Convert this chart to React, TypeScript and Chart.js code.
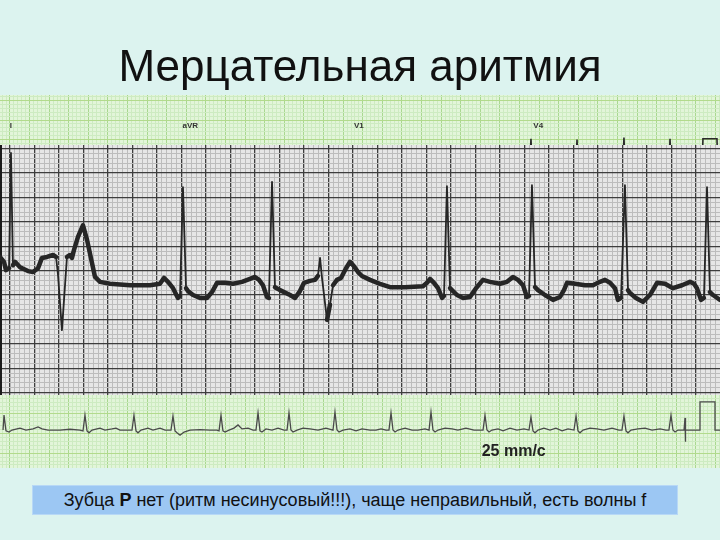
import React, { useEffect, useRef } from 'react';
import { Chart, registerables } from 'chart.js';

Chart.register(...registerables);

const TITLE = 'Мерцательная аритмия';
const CAPTION_START = 'Зубца ';
const CAPTION_BOLD = 'P';
const CAPTION_END = ' нет (ритм несинусовый!!!), чаще неправильный, есть волны f';
const SPEED_LABEL = '25 mm/c';
const SPEED_AT = [5.14, -0.47];

const leadNames = ['I', 'aVR', 'V1', 'V4'];
const leadTimes = [0.01, 1.84, 3.56, 5.39];
const leadLevel = 7.85;

// Upper (grey) rhythm strip: time in s, amplitude in mV
const upperTime = [
  -0.082, -0.049, -0.033, -0.008, 0.008, 0.024, 0.041, 0.082, 0.147, 0.188,
  0.229, 0.261, 0.302, 0.351, 0.376, 0.392, 0.424, 0.441, 0.465, 0.49,
  0.506, 0.522, 0.555, 0.596, 0.629, 0.669, 0.694, 0.735, 0.816, 0.98,
  1.143, 1.224, 1.257, 1.29, 1.331, 1.371, 1.388, 1.412, 1.437, 1.453,
  1.494, 1.551, 1.608, 1.649, 1.69, 1.755, 1.82, 1.894, 1.959, 2.0,
  2.033, 2.065, 2.098, 2.114, 2.139, 2.163, 2.204, 2.286, 2.327, 2.367,
  2.4, 2.449, 2.49, 2.514, 2.531, 2.547, 2.588, 2.612, 2.637, 2.669,
  2.702, 2.743, 2.776, 2.808, 2.841, 2.873, 2.939, 3.02, 3.102, 3.224,
  3.371, 3.404, 3.429, 3.461, 3.494, 3.527, 3.543, 3.567, 3.592, 3.608,
  3.649, 3.698, 3.755, 3.804, 3.861, 3.918, 4.0, 4.057, 4.106, 4.147,
  4.188, 4.22, 4.237, 4.261, 4.286, 4.31, 4.367, 4.433, 4.49, 4.522,
  4.547, 4.612, 4.694, 4.759, 4.816, 4.857, 4.898, 4.939, 4.963, 4.988,
  5.02, 5.045, 5.061, 5.11, 5.167, 5.224, 5.282, 5.347, 5.412, 5.486,
  5.551, 5.584, 5.608, 5.641, 5.665, 5.69, 5.714, 5.739, 5.796,
];
const upperMv = [
  0.78, 0.68, 0.51, 0.55, 2.91, 0.61, 0.68, 0.57, 0.49, 0.47,
  0.55, 0.76, 0.78, 0.82, 0.78, 0.41, -0.72, -0.1, 0.78, 0.82,
  0.76, 0.92, 1.19, 1.43, 1.13, 0.66, 0.37, 0.27, 0.23, 0.2,
  0.2, 0.23, 0.35, 0.27, 0.14, -0.06, -0.02, 2.21, 0.14, 0.08,
  0.0, -0.06, -0.06, 0.06, 0.25, 0.25, 0.23, 0.27, 0.33, 0.37,
  0.31, 0.2, -0.04, -0.06, 2.32, 0.16, 0.1, 0.0, -0.06, 0.08,
  0.25, 0.29, 0.31, 0.39, 0.76, 0.35, -0.51, -0.2, 0.2, 0.31,
  0.35, 0.55, 0.68, 0.59, 0.47, 0.39, 0.31, 0.23, 0.16, 0.16,
  0.18, 0.25, 0.33, 0.25, 0.14, -0.06, -0.02, 2.23, 0.14, 0.1,
  0.0, -0.06, -0.04, 0.14, 0.31, 0.27, 0.23, 0.27, 0.37, 0.31,
  0.2, -0.04, -0.02, 2.25, 0.16, 0.1, 0.0, -0.1, -0.04, 0.1,
  0.25, 0.23, 0.2, 0.2, 0.27, 0.31, 0.25, 0.14, -0.1, -0.06,
  2.25, 0.1, 0.04, -0.06, -0.14, 0.0, 0.25, 0.23, 0.14, 0.2,
  0.27, 0.23, 0.14, -0.1, -0.06, 2.21, 0.06, 0.0, -0.1,
];

// Lower (green) strip: time in s, amplitude in mV
const lowerTime = [
  -0.071, -0.061, -0.041, -0.01, 0.02, 0.102, 0.163, 0.235, 0.286, 0.327,
  0.388, 0.51, 0.612, 0.714, 0.745, 0.765, 0.786, 0.806, 0.837, 0.918,
  0.969, 1.041, 1.082, 1.122, 1.204, 1.245, 1.265, 1.286, 1.306, 1.337,
  1.408, 1.459, 1.531, 1.582, 1.643, 1.663, 1.684, 1.704, 1.735, 1.776,
  1.837, 1.939, 2.041, 2.112, 2.133, 2.153, 2.173, 2.194, 2.235, 2.286,
  2.327, 2.367, 2.429, 2.48, 2.51, 2.531, 2.551, 2.571, 2.612, 2.673,
  2.735, 2.796, 2.827, 2.847, 2.867, 2.888, 2.929, 2.99, 3.061, 3.143,
  3.224, 3.296, 3.316, 3.337, 3.357, 3.398, 3.469, 3.531, 3.592, 3.673,
  3.735, 3.786, 3.837, 3.867, 3.888, 3.908, 3.929, 3.959, 4.031, 4.102,
  4.163, 4.235, 4.276, 4.296, 4.316, 4.337, 4.367, 4.439, 4.51, 4.571,
  4.653, 4.735, 4.796, 4.827, 4.847, 4.867, 4.888, 4.918, 4.98, 5.031,
  5.102, 5.173, 5.245, 5.296, 5.316, 5.337, 5.357, 5.388, 5.449, 5.51,
  5.571, 5.633, 5.694, 5.755, 5.776, 5.796, 5.816, 5.847, 5.918, 5.99,
  6.061, 6.143, 6.214, 6.245, 6.265, 6.286, 6.306, 6.337, 6.408, 6.48,
  6.551, 6.633, 6.694, 6.724, 6.745, 6.765, 6.786, 6.816, 6.878, 6.888,
  6.888, 6.898, 7.041, 7.041, 7.194, 7.194, 7.245,
];
const lowerMv = [
  0.09, 0.47, 0.07, 0.04, 0.09, 0.14, 0.09, 0.12, 0.17, 0.12,
  0.09, 0.09, 0.11, 0.09, 0.07, 0.47, 0.07, 0.02, 0.09, 0.14,
  0.09, 0.12, 0.14, 0.09, 0.09, 0.09, 0.47, 0.07, 0.02, 0.09,
  0.14, 0.09, 0.14, 0.09, 0.09, 0.45, 0.07, 0.02, -0.04, 0.04,
  0.09, 0.1, 0.09, 0.09, 0.07, 0.47, 0.07, 0.04, 0.09, 0.14,
  0.22, 0.12, 0.14, 0.09, 0.09, 0.53, 0.07, 0.04, 0.12, 0.09,
  0.14, 0.09, 0.09, 0.53, 0.09, 0.04, 0.09, 0.14, 0.12, 0.09,
  0.14, 0.09, 0.55, 0.09, 0.04, 0.09, 0.12, 0.07, 0.12, 0.09,
  0.09, 0.12, 0.09, 0.09, 0.53, 0.09, 0.04, 0.09, 0.14, 0.09,
  0.09, 0.12, 0.09, 0.55, 0.09, 0.04, 0.09, 0.14, 0.12, 0.09,
  0.14, 0.09, 0.09, 0.09, 0.47, 0.09, 0.04, 0.09, 0.12, 0.07,
  0.14, 0.09, 0.12, 0.09, 0.42, 0.07, 0.02, 0.09, 0.14, 0.09,
  0.14, 0.07, 0.12, 0.09, 0.45, 0.07, 0.02, 0.09, 0.14, 0.12,
  0.09, 0.14, 0.09, 0.09, 0.45, 0.07, 0.02, 0.09, 0.12, 0.14,
  0.09, 0.12, 0.09, 0.09, 0.47, 0.09, 0.04, 0.09, 0.09, 0.4,
  -0.21, 0.09, 0.09, 0.81, 0.81, 0.09, 0.09,
];

// Lead V4 fragment peeking above the photographed strip
const v4Time = [4.9, 5.3, 5.316, 5.332, 5.77, 5.786, 5.8, 6.25, 6.265, 6.28, 6.72, 6.735, 6.75, 7.06, 7.071, 7.214, 7.225, 7.245];
const v4Mv = [6.6, 6.6, 7.52, 6.6, 6.6, 7.5, 6.6, 6.6, 7.55, 6.6, 6.6, 7.52, 6.6, 6.6, 7.52, 7.52, 6.6, 6.6];

function pairs(xs: number[], ys: number[]) {
  const n = Math.min(xs.length, ys.length);
  const out: { x: number; y: number }[] = [];
  for (let i = 0; i < n; i++) out.push({ x: xs[i], y: ys[i] });
  return out;
}

function paperTicks(min: number, max: number, step: number) {
  const out: { value: number; major: boolean }[] = [];
  const k0 = Math.ceil(min / step - 1e-9);
  const k1 = Math.floor(max / step + 1e-9);
  for (let k = k0; k <= k1; k++) out.push({ value: +(k * step).toFixed(5), major: k % 5 === 0 });
  return out;
}

function paperAxis(min: number, max: number, step: number, minor: string, major: string, minorW: number, majorW: number, horizontal: boolean, border?: any) {
  return {
    type: 'linear',
    min,
    max,
    bounds: 'data',
    ticks: { display: false, autoSkip: false },
    border: border || { display: false },
    grid: {
      drawTicks: false,
      color: (c: any) => (c.tick && c.tick.major ? major : minor),
      lineWidth: (c: any) => (c.tick && c.tick.major ? majorW : minorW),
    },
    afterBuildTicks: (axis: any) => {
      axis.ticks = paperTicks(min, max, step);
    },
    afterFit: (axis: any) => {
      if (horizontal) axis.height = 0;
      else axis.width = 0;
    },
  };
}

function fillPlugin(id: string, areaFill: string, pageFill?: string) {
  return {
    id,
    beforeDraw(chart: any) {
      const { ctx, chartArea, width, height } = chart;
      ctx.save();
      if (pageFill) {
        ctx.fillStyle = pageFill;
        ctx.fillRect(0, 0, width, height);
      }
      ctx.fillStyle = areaFill;
      ctx.fillRect(chartArea.left, chartArea.top, chartArea.right - chartArea.left, chartArea.bottom - chartArea.top);
      ctx.restore();
    },
  };
}

const labelPlugin = {
  id: 'paperLabels',
  afterDatasetsDraw(chart: any) {
    const { ctx, scales } = chart;
    const xs = scales.x;
    const ys = scales.y;
    ctx.save();
    ctx.fillStyle = '#333';
    ctx.font = 'bold 8px "Liberation Sans", Arial, sans-serif';
    ctx.textAlign = 'center';
    ctx.textBaseline = 'middle';
    leadNames.forEach((name, i) => {
      ctx.fillText(name, xs.getPixelForValue(leadTimes[i]), ys.getPixelForValue(leadLevel));
    });
    ctx.fillStyle = '#222';
    ctx.font = 'bold 16px "Liberation Sans", Arial, sans-serif';
    ctx.fillText(SPEED_LABEL, xs.getPixelForValue(SPEED_AT[0]), ys.getPixelForValue(SPEED_AT[1]));
    ctx.restore();
  },
};

export default function App() {
  const paperRef = useRef<HTMLCanvasElement>(null);
  const stripRef = useRef<HTMLCanvasElement>(null);

  useEffect(() => {
    const green = new Chart(paperRef.current as HTMLCanvasElement, {
      type: 'line',
      data: {
        datasets: [
          {
            data: pairs(lowerTime, lowerMv),
            borderColor: '#4a4a4a',
            borderWidth: 1.3,
            pointRadius: 0,
            tension: 0,
          },
          {
            data: pairs(v4Time, v4Mv),
            borderColor: '#2a2a2a',
            borderWidth: 1.6,
            pointRadius: 0,
            tension: 0,
          },
        ],
      },
      options: {
        responsive: false,
        animation: false,
        events: [],
        layout: { padding: { top: 0, bottom: 72, left: 0, right: 0 } },
        plugins: {
          legend: { display: false },
          tooltip: { enabled: false },
          title: {
            display: true,
            text: TITLE,
            color: '#111',
            font: { family: '"Liberation Sans", Arial, sans-serif', size: 44, weight: 'normal', lineHeight: 1 },
            padding: { top: 47, bottom: 4 },
          },
        },
        scales: {
          x: paperAxis(-0.102, 7.245, 0.04, '#cdebc1', '#a9d88f', 1, 1, true),
          y: paperAxis(-0.878, 8.638, 0.1, '#cdebc1', '#b2da8c', 1, 1, false),
        },
      } as any,
      plugins: [fillPlugin('greenPaper', '#e2f5d9', '#dcf3ef'), labelPlugin],
    });

    const grey = new Chart(stripRef.current as HTMLCanvasElement, {
      type: 'line',
      data: {
        datasets: [
          {
            data: pairs(upperTime, upperMv),
            borderColor: '#262626',
            borderWidth: 4.5,
            borderCapStyle: 'round',
            borderJoinStyle: 'round',
            pointRadius: 0,
            tension: 0,
            segment: {
              borderWidth: (c: any) => {
                const dx = Math.abs(c.p1.parsed.x - c.p0.parsed.x) || 1e-6;
                const dy = Math.abs(c.p1.parsed.y - c.p0.parsed.y);
                return dy / dx > 15 ? 1.8 : 4.5;
              },
            },
          },
        ],
      },
      options: {
        responsive: false,
        animation: false,
        events: [],
        layout: { padding: 0 },
        plugins: {
          legend: { display: false },
          tooltip: { enabled: false },
          title: { display: false },
        },
        scales: {
          x: paperAxis(-0.0816, 5.796, 0.04, '#bcbcbc', '#3e3e3e', 1, 1.3, true),
          y: paperAxis(-2.049, 3.074, 0.1, '#bcbcbc', '#3e3e3e', 1, 1.3, false, { display: true, color: '#1a1a1a', width: 4 }),
        },
      } as any,
      plugins: [fillPlugin('greyPaper', '#e6e6e6')],
    });

    return () => {
      green.destroy();
      grey.destroy();
    };
  }, []);

  return (
    <div style={{ position: 'absolute', left: 0, top: 0, width: 720, height: 540, overflow: 'hidden', background: '#dcf3ef' }}>
      <canvas ref={paperRef} width={720} height={540} style={{ position: 'absolute', left: 0, top: 0 }} />
      <canvas ref={stripRef} width={720} height={250} style={{ position: 'absolute', left: 0, top: 145 }} />
      <div
        style={{
          position: 'absolute',
          left: 32,
          top: 485,
          width: 646,
          height: 30,
          boxSizing: 'border-box',
          background: '#9cc7f3',
          border: '1px solid #b8d8f6',
          textAlign: 'center',
          lineHeight: '28px',
          fontFamily: '"Liberation Sans", Arial, sans-serif',
          fontSize: 18,
          color: '#111',
          whiteSpace: 'pre',
        }}
      >
        <span>
          {CAPTION_START}
          <b>{CAPTION_BOLD}</b>
          {CAPTION_END}
        </span>
      </div>
    </div>
  );
}
